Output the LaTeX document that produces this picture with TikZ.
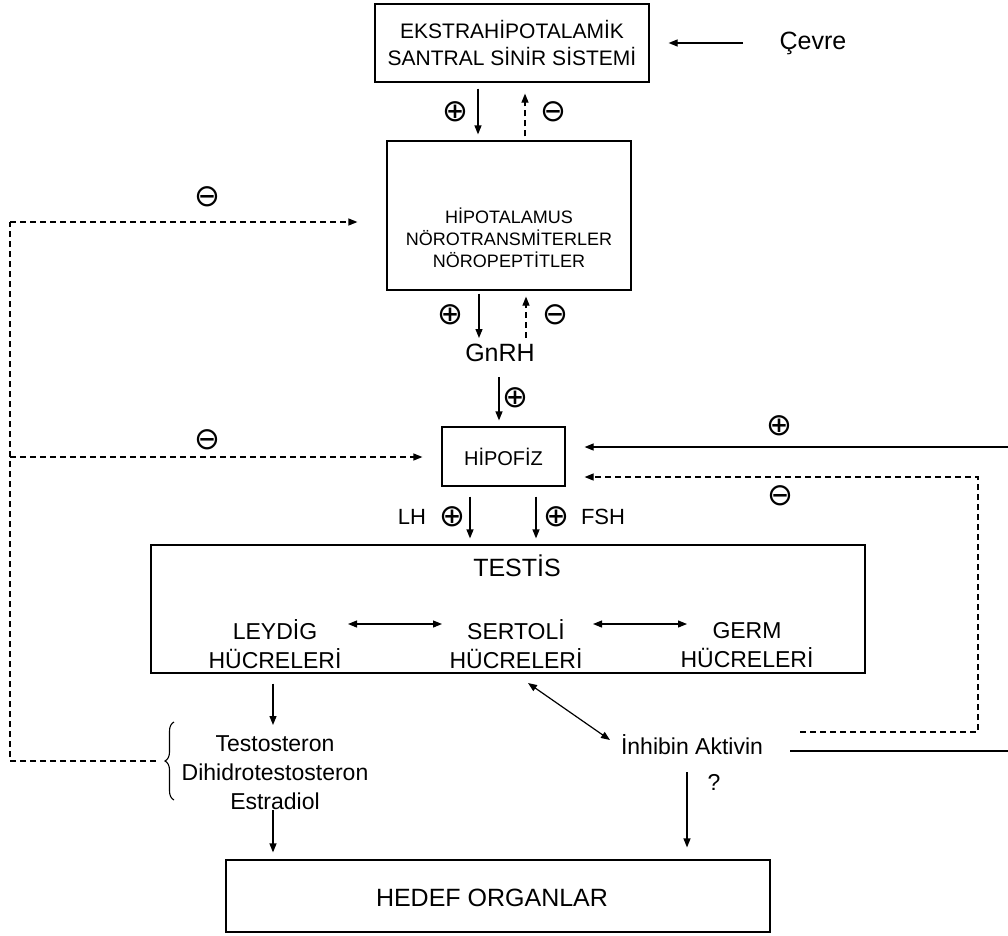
\documentclass[tikz,border=0pt]{standalone}
\usepackage{fontspec}
\setmainfont{Liberation Sans}
\newfontfamily\symf{DejaVu Sans}
\usetikzlibrary{arrows.meta,calc,decorations.pathreplacing}
\begin{document}
\begin{tikzpicture}[x=1pt,y=-1pt,
  box/.style={draw,line width=1.2pt,inner sep=0pt,align=center},
  arr/.style={line width=1.2pt,-{Triangle[length=9pt,width=7pt]}},
  darr/.style={arr,dash pattern=on 6pt off 4pt},
  dline/.style={line width=1.2pt,dash pattern=on 6pt off 4pt},
  sline/.style={line width=1.2pt},
  biarr/.style={line width=1.2pt,{Triangle[length=9pt,width=7pt]}-{Triangle[length=9pt,width=7pt]}},
  sgn/.style={inner sep=0pt,font=\symf\fontsize{31}{31}\selectfont},
  t/.style={inner sep=0pt,align=center},
  big/.style={t,font=\fontsize{25}{30}\selectfont},
  mid/.style={t,font=\fontsize{23}{28.5}\selectfont},
]
\useasboundingbox (0,0) rectangle (1008,935);
\clip (0,0) rectangle (1008,935);

% top box
\node[box,minimum width=274pt,minimum height=78pt,font=\fontsize{21}{26.5}\selectfont] (eks) at (512,43) {EKSTRAHİPOTALAMİK\\SANTRAL SİNİR SİSTEMİ};
\node[big] (cevre) at (813,43) {Çevre};
\draw[arr] ($(cevre.center)+(-70,0)$) -- ($(eks.east)+(19,0)$);

% hypothalamus
\node[box,minimum width=244pt,minimum height=149pt] (hyp) at (509,215.5) {};
\node[t,font=\fontsize{18}{22}\selectfont] (hyptxt) at (509,238) {HİPOTALAMUS\\NÖROTRANSMİTERLER\\NÖROPEPTİTLER};

\draw[arr] ($(eks.south)+(-34,6)$) -- ($(hyp.north)+(-31,-6)$);
\draw[darr] ($(hyp.north)+(16,-4)$) -- ($(eks.south)+(13,11)$);
\node[sgn] (p1) at (455,112) {⊕};
\node[sgn] (m1) at (553,112) {⊖};

% GnRH
\node[big] (gnrh) at (500,353) {GnRH};
\draw[arr] ($(hyp.south)+(-30,3)$) -- ($(gnrh.center)+(-21,-15)$);
\draw[darr] ($(gnrh.center)+(26,-15)$) -- ($(hyp.south)+(17,6)$);
\node[sgn] (p2) at (450,315) {⊕};
\node[sgn] (m2) at (555,315) {⊖};

% hipofiz
\node[box,minimum width=123pt,minimum height=59pt,font=\fontsize{20}{24}\selectfont] (hipo) at (503.5,456.5) {HİPOFİZ};
\draw[arr] ($(gnrh.center)+(-1,24)$) -- ($(hipo.north)+(-4.5,-6)$);
\node[sgn] (p3) at (515,398) {⊕};

% testis
\node[box,minimum width=714pt,minimum height=128pt] (testis) at (508,609) {};
\node[big] (testistxt) at (517,566) {TESTİS};
\node[mid] (ley) at (275,644) {LEYDİG\\HÜCRELERİ};
\node[mid] (ser) at (516,644) {SERTOLİ\\HÜCRELERİ};
\node[mid] (germ) at (747,645) {GERM\\HÜCRELERİ};
\draw[biarr] ($(ley.center)+(73,-20)$) -- ($(ser.center)+(-74,-20)$);
\draw[biarr] ($(ser.center)+(77,-20)$) -- ($(germ.center)+(-60,-21)$);

% LH / FSH
\draw[arr] ($(hipo.south)+(-33.5,10)$) -- ($(testis.north)+(-38,-6)$);
\draw[arr] ($(hipo.south)+(32.5,10)$) -- ($(testis.north)+(28,-6)$);
\node[t,font=\fontsize{22}{26}\selectfont] (lh) at (412,517) {LH};
\node[sgn] (p4) at (452,517) {⊕};
\node[sgn] (p5) at (556,517) {⊕};
\node[t,font=\fontsize{22}{26}\selectfont] (fsh) at (603,517) {FSH};

% hormones
\node[t,font=\fontsize{23}{29}\selectfont] (horm) at (275,773) {Testosteron\\Dihidrotestosteron\\Estradiol};
\draw[arr] ($(testis.south)+(-235,10)$) -- ($(horm.center)+(-2,-48)$);
\coordinate (brB) at (174,800);
\coordinate (brT) at (174,722);
\draw[line width=1.1pt,decorate,decoration={brace,amplitude=9pt}] (brB) -- (brT);
\coordinate (brTip) at (163,761);

% target organs
\node[box,minimum width=544pt,minimum height=72pt] (hedef) at (498,896) {};
\node[t,font=\fontsize{25}{30}\selectfont] (hedeftxt) at (492,898) {HEDEF ORGANLAR};
\draw[arr] ($(horm.center)+(-2,37)$) -- ($(hedef.north)+(-225,-7)$);

% inhibin
\node[mid] (inh) at (692,745) {İnhibin Aktivin};
\draw[biarr] ($(ser.center)+(12,39)$) -- ($(inh.center)+(-82,-5)$);
\draw[arr] ($(inh.center)+(-5,27)$) -- ($(hedef.north)+(189,-12)$);
\node[mid] (q) at (714,782) {?};

% left feedback
\coordinate (lb) at (10,761);
\coordinate (lt) at (10,222);
\coordinate (lm) at (10,457);
\draw[dline] ($(brTip)+(-7,0)$) -- (lb) -- (lt);
\draw[darr] (lt) -- ($(hyp.west)+(-29,6.5)$);
\draw[darr] (lm) -- ($(hipo.west)+(-19,0.5)$);
\node[sgn] (m3) at (207,197) {⊖};
\node[sgn] (m4) at (207,440) {⊖};

% right feedback
\coordinate (rs1) at (1012,751);
\coordinate (rs2) at (1012,447);
\draw[arr] ($(inh.center)+(98,6)$) -- (rs1) -- (rs2) -- ($(hipo.east)+(19,-9.5)$);
\coordinate (rd1) at (978,732);
\coordinate (rd2) at (978,477);
\draw[darr] ($(inh.center)+(108,-13)$) -- (rd1) -- (rd2) -- ($(hipo.east)+(19,20.5)$);
\node[sgn] (p6) at (779,426) {⊕};
\node[sgn] (m5) at (780,496) {⊖};
\end{tikzpicture}
\end{document}
